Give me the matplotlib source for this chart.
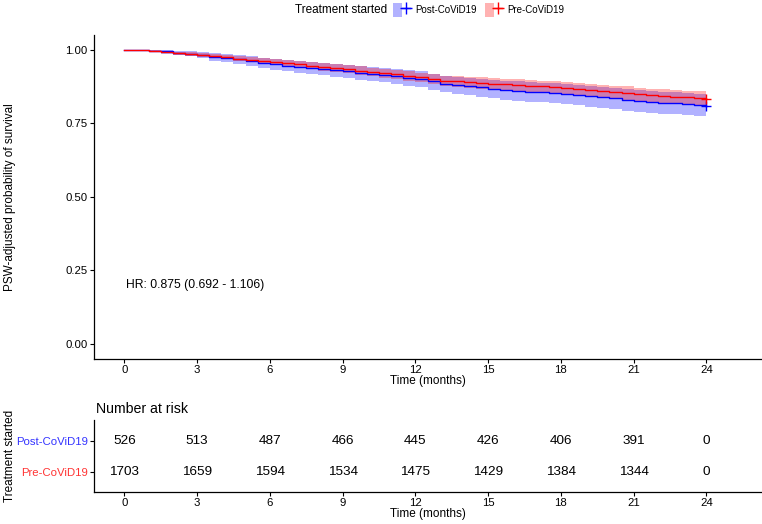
# Kaplan-Meier style curves (PSW-adjusted) with number-at-risk table

import numpy as np
import matplotlib.pyplot as plt
from matplotlib.patches import Patch
from matplotlib.lines import Line2D
from matplotlib.legend_handler import HandlerTuple

plt.rcParams['font.family'] = ['Liberation Sans', 'DejaVu Sans']

# Data (half-month grid)
months = np.arange(0, 24.5, 0.5)

post_surv = [1.0, 0.999, 0.997, 0.994, 0.990, 0.987, 0.983, 0.976, 0.972, 0.967, 0.962, 0.955, 0.950,
             0.946, 0.942, 0.939, 0.935, 0.930, 0.926, 0.921, 0.918, 0.914, 0.910, 0.905, 0.900,
             0.892, 0.885, 0.879, 0.875, 0.872, 0.868, 0.863, 0.860, 0.857, 0.855, 0.853, 0.850,
             0.846, 0.843, 0.839, 0.835, 0.830, 0.826, 0.823, 0.820, 0.818, 0.815, 0.812, 0.810]
post_lower = [1.0, 0.996, 0.992, 0.987, 0.982, 0.977, 0.972, 0.963, 0.958, 0.952, 0.946, 0.938, 0.932,
              0.927, 0.922, 0.918, 0.913, 0.907, 0.903, 0.897, 0.893, 0.889, 0.884, 0.878, 0.872,
              0.863, 0.856, 0.849, 0.845, 0.841, 0.836, 0.830, 0.827, 0.824, 0.821, 0.818, 0.815,
              0.811, 0.807, 0.802, 0.798, 0.793, 0.789, 0.786, 0.783, 0.781, 0.778, 0.775, 0.773]
post_upper = [1.0, 1.0, 1.0, 0.999, 0.997, 0.995, 0.993, 0.988, 0.985, 0.981, 0.977, 0.971, 0.967,
              0.964, 0.961, 0.959, 0.956, 0.952, 0.948, 0.944, 0.941, 0.938, 0.934, 0.930, 0.926,
              0.919, 0.912, 0.907, 0.904, 0.901, 0.898, 0.894, 0.892, 0.890, 0.888, 0.886, 0.884,
              0.880, 0.877, 0.874, 0.870, 0.866, 0.862, 0.860, 0.857, 0.855, 0.852, 0.850, 0.848]

pre_surv = [1.0, 0.998, 0.995, 0.992, 0.988, 0.985, 0.982, 0.979, 0.975, 0.970, 0.966, 0.962, 0.958,
            0.954, 0.950, 0.946, 0.942, 0.938, 0.934, 0.929, 0.925, 0.921, 0.916, 0.911, 0.906,
            0.900, 0.895, 0.892, 0.890, 0.887, 0.885, 0.882, 0.880, 0.877, 0.875, 0.872, 0.870,
            0.867, 0.864, 0.860, 0.856, 0.853, 0.849, 0.846, 0.843, 0.840, 0.838, 0.835, 0.833]
pre_lower = [1.0, 0.996, 0.992, 0.988, 0.983, 0.979, 0.975, 0.971, 0.967, 0.962, 0.957, 0.952, 0.947,
             0.942, 0.938, 0.933, 0.929, 0.924, 0.920, 0.915, 0.910, 0.905, 0.900, 0.894, 0.889,
             0.883, 0.877, 0.874, 0.871, 0.868, 0.866, 0.863, 0.860, 0.857, 0.855, 0.852, 0.849,
             0.846, 0.842, 0.838, 0.834, 0.830, 0.826, 0.823, 0.820, 0.817, 0.815, 0.812, 0.809]
pre_upper = [1.0, 1.0, 0.998, 0.996, 0.993, 0.991, 0.988, 0.986, 0.983, 0.979, 0.975, 0.972, 0.968,
             0.965, 0.961, 0.958, 0.954, 0.951, 0.947, 0.943, 0.939, 0.935, 0.931, 0.927, 0.922,
             0.917, 0.912, 0.910, 0.908, 0.906, 0.904, 0.901, 0.899, 0.897, 0.895, 0.892, 0.890,
             0.888, 0.885, 0.881, 0.878, 0.875, 0.871, 0.868, 0.866, 0.863, 0.861, 0.859, 0.857]

risk_times = [0, 3, 6, 9, 12, 15, 18, 21, 24]
post_risk = [526, 513, 487, 466, 445, 426, 406, 391, 0]
pre_risk = [1703, 1659, 1594, 1534, 1475, 1429, 1384, 1344, 0]

groups = ['Post-CoViD19', 'Pre-CoViD19']
blue = '#0000FF'
red = '#FF0000'
hr_text = 'HR: 0.875 (0.692 - 1.106)'

W, H = 762, 524
fig = plt.figure(figsize=(W / 100, H / 100), dpi=100)

def ax_rect(l, t, r, b):
    return [l / W, 1 - b / H, (r - l) / W, (b - t) / H]

ax = fig.add_axes(ax_rect(94, 35, 761, 358.7))
rt = fig.add_axes(ax_rect(94, 420, 761, 492))

# survival curves
for surv, lo, hi, col in [(post_surv, post_lower, post_upper, blue),
                          (pre_surv, pre_lower, pre_upper, red)]:
    ax.fill_between(months, lo, hi, step='post', color=col, alpha=0.3, linewidth=0)
    ax.step(months, surv, where='post', color=col, linewidth=1.0)
    ax.plot(months[-1], surv[-1], marker='+', color=col, markersize=7, mew=1.0)

ax.text(0.05, 0.2, hr_text, fontsize=8.7, va='center', ha='left')

for a in (ax, rt):
    a.set_xlim(-1.25, 26.25)
    a.set_xticks(risk_times)
    a.spines['top'].set_visible(False)
    a.spines['right'].set_visible(False)
    for s in ('left', 'bottom'):
        a.spines[s].set_linewidth(0.9)
    a.tick_params(length=3, width=0.8, labelsize=8.2, pad=1.5)
    a.set_xlabel('Time (months)', fontsize=8.5, labelpad=0)

ax.set_ylim(-0.05, 1.05)
ax.set_yticks([0, 0.25, 0.5, 0.75, 1.0])
ax.set_yticklabels(['0.00', '0.25', '0.50', '0.75', '1.00'])
ax.set_ylabel('PSW-adjusted probability of survival', fontsize=8.5)
ax.yaxis.set_label_coords(-78 / 667, 0.5)

# risk table
rt.set_ylim(0.355, 2.68)
rt.set_yticks([2, 1])
rt.set_yticklabels(groups)
rt.tick_params(axis='y', labelsize=8.2)
rt.get_yticklabels()[0].set_color('#3333FF')
rt.get_yticklabels()[1].set_color('#FF3333')
for t, n in zip(risk_times, post_risk):
    rt.text(t, 2, str(n), ha='center', va='center', fontsize=9.7)
for t, n in zip(risk_times, pre_risk):
    rt.text(t, 1, str(n), ha='center', va='center', fontsize=9.7)
rt.set_title('Number at risk', loc='left', fontsize=10.2, pad=5, x=0.003)
rt.set_ylabel('Treatment started', fontsize=8.5)
rt.yaxis.set_label_coords(-78 / 667, 0.5)

# legend at the top
fig.text(387 / W, 1 - 10 / H, 'Treatment started', ha='right', va='center', fontsize=8.5)
handles = [(Patch(facecolor=blue, alpha=0.3, edgecolor='none'),
            Line2D([], [], color=blue, marker='+', markersize=8, linewidth=1)),
           (Patch(facecolor=red, alpha=0.3, edgecolor='none'),
            Line2D([], [], color=red, marker='+', markersize=8, linewidth=1))]
fig.legend(handles, groups, loc='center left', bbox_to_anchor=(393 / W, 1 - 10 / H),
           ncol=2, frameon=False, fontsize=7, handlelength=1.75, handleheight=1.75,
           handletextpad=0.5, columnspacing=0.9, borderpad=0, borderaxespad=0,
           handler_map={tuple: HandlerTuple(ndivide=None, pad=0)})

fig.savefig('out.png', dpi=100)
